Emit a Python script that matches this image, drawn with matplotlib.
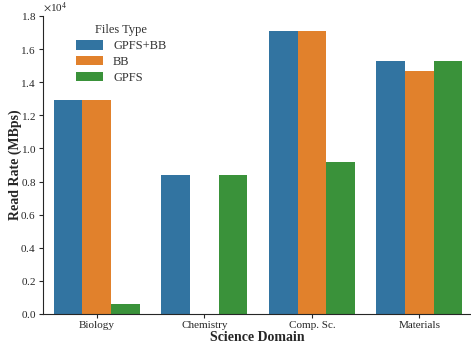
import numpy as np
import pandas as pd
import matplotlib
matplotlib.use("Agg")
import matplotlib.pyplot as plt
import seaborn as sns

domains = ["Biology", "Chemistry", "Comp. Sc.", "Materials"]
file_types = ["GPFS+BB", "BB", "GPFS"]
gpfs_bb = [12900, 8400, 17100, 15300]
bb = [12900, 0, 17100, 14700]
gpfs = [600, 8400, 9200, 15300]

sns.set_style("ticks")
plt.rcParams['font.family'] = ['Liberation Serif', 'DejaVu Serif']
plt.rcParams['mathtext.fontset'] = 'stix'

rows = []
for i, d in enumerate(domains):
    for ft, vals in zip(file_types, [gpfs_bb, bb, gpfs]):
        rows.append({"Science Domain": d, "Files Type": ft, "Read Rate": vals[i]})
df = pd.DataFrame(rows)

fig = plt.figure(figsize=(4.71, 3.45), dpi=100)
ax = fig.add_axes([43 / 471, 31 / 345, 428 / 471, 298 / 345])
sns.barplot(data=df, x="Science Domain", y="Read Rate", hue="Files Type",
            hue_order=file_types, order=domains, ax=ax, errorbar=None,
            linewidth=0)

ax.set_xlim(-0.5, 3.48)
ax.set_ylim(0, 18000)
ax.set_yticks(np.arange(0, 18001, 2000))
ax.ticklabel_format(axis='y', style='sci', scilimits=(4, 4), useMathText=True)
ax.yaxis.get_offset_text().set_fontsize(8)
ax.tick_params(labelsize=8, length=3, pad=2)
ax.set_xlabel("Science Domain", fontsize=10, fontweight='bold', labelpad=1)
ax.set_ylabel("Read Rate (MBps)", fontsize=10, fontweight='bold')
ax.yaxis.set_label_coords(-0.05, 0.5)
sns.despine(ax=ax)

leg = ax.legend(title="Files Type", loc='upper left', bbox_to_anchor=(0.05, 1.01),
                frameon=False, fontsize=9, title_fontsize=9,
                handlelength=2.2, handleheight=0.8, labelspacing=0.3)
for t in leg.get_texts():
    t.set_color('#333333')
leg.get_title().set_color('#333333')

fig.savefig("out.png", dpi=100)
